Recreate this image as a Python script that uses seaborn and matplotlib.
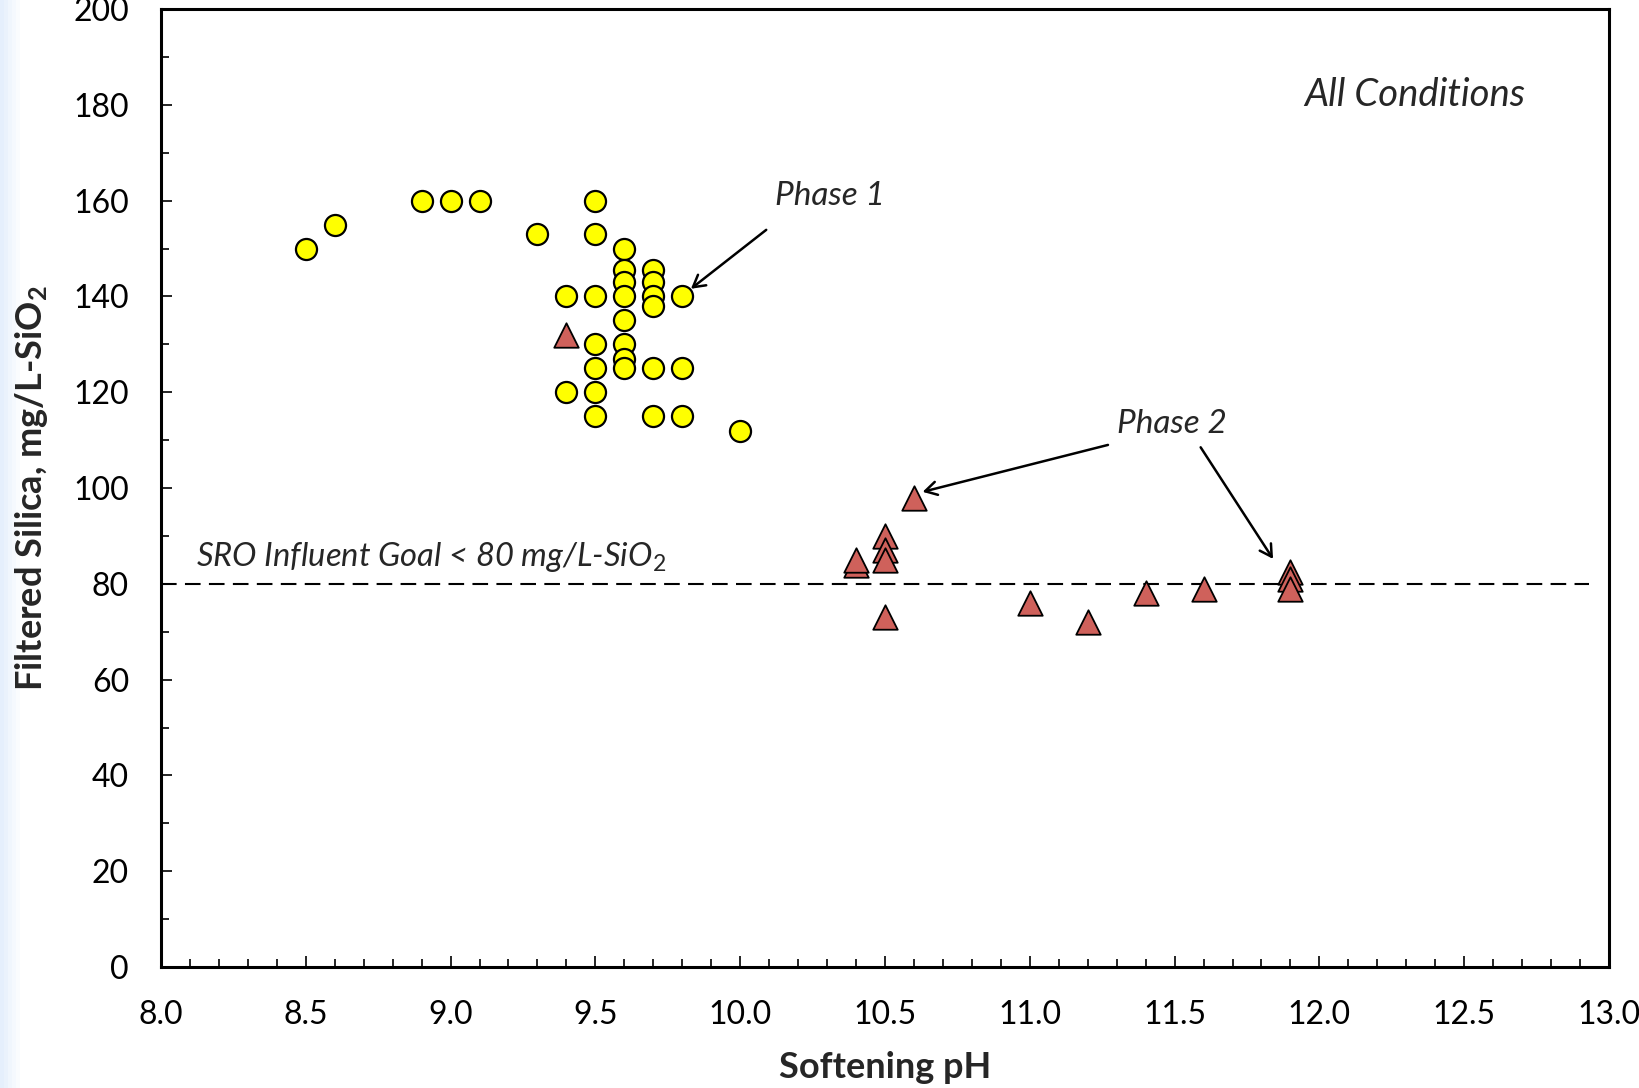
import numpy as np
import pandas as pd
import matplotlib
matplotlib.use("Agg")
import matplotlib.pyplot as plt
import seaborn as sns
from matplotlib.ticker import MultipleLocator, FormatStrFormatter

# Phase 1 (circles)
phase1_ph = [8.5, 8.6, 8.9, 9.0, 9.1, 9.3,
             9.4, 9.4,
             9.5, 9.5, 9.5, 9.5, 9.5, 9.5, 9.5,
             9.6, 9.6, 9.6, 9.6, 9.6, 9.6, 9.6, 9.6,
             9.7, 9.7, 9.7, 9.7, 9.7, 9.7,
             9.8, 9.8, 9.8,
             10.0]
phase1_si = [150, 155, 160, 160, 160, 153,
             140, 120,
             160, 153, 140, 130, 125, 120, 115,
             150, 145.5, 143, 140, 135, 130, 127, 125,
             145.5, 143, 140, 138, 125, 115,
             140, 125, 115,
             112]

# Phase 2 (triangles)
phase2_ph = [9.4, 10.4, 10.4, 10.5, 10.5, 10.5, 10.5, 10.6, 11.0, 11.2, 11.4, 11.6, 11.9, 11.9, 11.9]
phase2_si = [132, 84, 85, 90, 87, 85, 73, 98, 76, 72, 78, 79, 82.5, 81, 79]

goal_value = 80
x_ticks = [8.0, 8.5, 9.0, 9.5, 10.0, 10.5, 11.0, 11.5, 12.0, 12.5, 13.0]
y_ticks = [0, 20, 40, 60, 80, 100, 120, 140, 160, 180, 200]

sns.set_theme(style="ticks")
plt.rcParams['font.family'] = ['Lato', 'DejaVu Sans']
plt.rcParams['mathtext.fontset'] = 'custom'
plt.rcParams['mathtext.rm'] = 'Lato'
plt.rcParams['mathtext.it'] = 'Lato:italic'
plt.rcParams['mathtext.bf'] = 'Lato:bold'

fig = plt.figure(figsize=(16.39, 10.88), dpi=100)
fig.patch.set_facecolor('white')

# subtle background gradient at left edge
bg = fig.add_axes([0, 0, 1, 1], zorder=-10)
grad = np.ones((10, 400, 3))
xs = np.linspace(0, 1, 400)
fade = np.clip(1 - xs / 0.012, 0, 1)
base = np.array([0.90, 0.94, 0.99])
for c in range(3):
    grad[:, :, c] = 1 - (1 - base[c]) * fade
bg.imshow(grad, aspect='auto', extent=[0, 1, 0, 1])
bg.set_axis_off()

ax = fig.add_axes([0.0982, 0.1112, 0.9817 - 0.0982, 0.9917 - 0.1112])
ax.set_facecolor('white')

df1 = pd.DataFrame({'ph': phase1_ph, 'si': phase1_si})
df2 = pd.DataFrame({'ph': phase2_ph, 'si': phase2_si})

ax.axhline(goal_value, xmin=0, xmax=(12.93 - 8) / 5, color='black', lw=1.5,
           dashes=(7.5, 4), zorder=1)

sns.scatterplot(data=df1, x='ph', y='si', ax=ax, marker='o', s=230,
                color='#FFFF00', edgecolor='black', linewidth=1.6, zorder=3)
sns.scatterplot(data=df2, x='ph', y='si', ax=ax, marker='^', s=310,
                color='#CF615B', edgecolor='black', linewidth=1.3, zorder=3)

ax.set_xlim(8.0, 13.0)
ax.set_ylim(0, 200)
ax.set_xticks(x_ticks)
ax.set_yticks(y_ticks)
ax.xaxis.set_minor_locator(MultipleLocator(0.1))
ax.yaxis.set_minor_locator(MultipleLocator(10))
ax.xaxis.set_major_formatter(FormatStrFormatter('%.1f'))
ax.tick_params(axis='both', which='major', direction='in', length=8, width=1.2,
               labelsize=23, color='black', labelcolor='black')
ax.tick_params(axis='both', which='minor', direction='in', length=6, width=1.2,
               color='black')
ax.tick_params(axis='x', which='major', pad=24)
ax.tick_params(axis='y', which='major', pad=23)
for sp in ax.spines.values():
    sp.set_visible(True)
    sp.set_linewidth(2.2)
    sp.set_color('black')

ax.set_xlabel('Softening pH', fontsize=26, fontweight='bold', labelpad=15)
ax.set_ylabel(r'Filtered Silica, mg/L-SiO$_\mathbf{2}$', fontsize=26,
              fontweight='bold', labelpad=17)

ax.text(12.33, 182.0, 'All Conditions', fontsize=27.5, style='italic',
        ha='center', va='center')
arrow_style = dict(arrowstyle='->,head_length=0.7,head_width=0.4',
                   color='black', lw=1.8)
ax.annotate('', xy=(9.83, 141.6), xytext=(10.09, 153.9),
            arrowprops=dict(**arrow_style, shrinkA=0, shrinkB=0))
ax.text(10.31, 161.0, 'Phase 1', fontsize=24, style='italic',
        ha='center', va='center')
ax.annotate('', xy=(10.63, 99.2), xytext=(11.27, 109.0),
            arrowprops=dict(**arrow_style, shrinkA=0, shrinkB=0))
ax.annotate('', xy=(11.84, 85.2), xytext=(11.59, 108.5),
            arrowprops=dict(**arrow_style, shrinkA=0, shrinkB=0))
ax.text(11.49, 113.4, 'Phase 2', fontsize=24, style='italic',
        ha='center', va='center')
ax.text(8.12, 85.5, r'SRO Influent Goal < 80 mg/L-SiO$_\mathit{2}$', fontsize=23.6,
        style='italic', ha='left', va='center')

fig.savefig('out.png', dpi=100, facecolor=fig.get_facecolor())
